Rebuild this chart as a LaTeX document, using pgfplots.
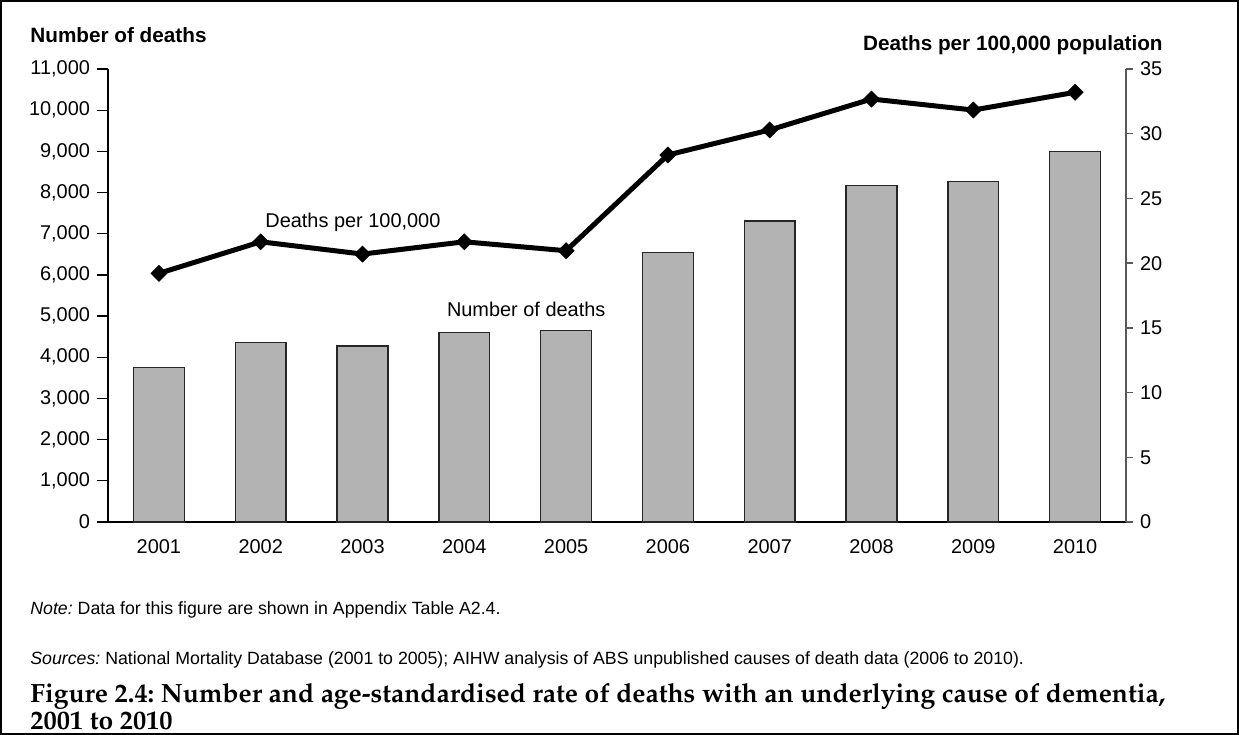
\documentclass[border=0pt]{standalone}
\usepackage[T1]{fontenc}
\usepackage{fontspec}
\setmainfont{Liberation Sans}
\usepackage{pgfplots}
\pgfplotsset{compat=1.18}

\definecolor{barfill}{HTML}{B3B3B3}
\newcommand\capfont{\fontencoding{T1}\fontfamily{ppl}\fontseries{b}\selectfont}

\begin{document}
\frenchspacing
\begin{tikzpicture}

% frame round the figure
\draw[line width=1.2bp] (0.6bp,-0.6bp) rectangle (618.9bp,-366.9bp);

% number of deaths (left axis, bars)
\begin{axis}[
  at={(54bp,-261bp)}, anchor=south west,
  scale only axis,
  width=509bp, height=226.5bp,
  xmin=0.5, xmax=10.5,
  ymin=0, ymax=11000,
  axis x line*=bottom,
  axis y line*=left,
  xtick={1,...,10},
  xticklabels={2001,2002,2003,2004,2005,2006,2007,2008,2009,2010},
  x tick style={draw=none},
  ytick={0,1000,...,11000},
  scaled y ticks=false,
  yticklabel style={/pgf/number format/1000 sep={,}},
  tick align=outside,
  major tick length=5.5bp,
  y tick style={black, line width=0.6bp},
  axis line style={black, line width=0.7bp},
  tick label style={font=\fontsize{10}{12}\selectfont},
  /pgf/number format/assume math mode=true,
]
\addplot[ybar, bar width=0.5, fill=barfill, draw=black!85, line width=0.7bp]
coordinates {
  (1,3747) (2,4354) (3,4274) (4,4597) (5,4645)
  (6,6539) (7,7309) (8,8166) (9,8263) (10,8992)
};
\end{axis}

% deaths per 100,000 (right axis, line)
\begin{axis}[
  at={(54bp,-261bp)}, anchor=south west,
  scale only axis,
  width=509bp, height=226.5bp,
  xmin=0.5, xmax=10.5,
  ymin=0, ymax=35,
  axis x line=none,
  axis y line*=right,
  ytick={0,5,...,35},
  tick align=outside,
  major tick length=3.5bp,
  y tick style={black!65, line width=0.7bp},
  axis line style={black!65, line width=0.9bp},
  tick label style={font=\fontsize{10}{12}\selectfont},
  /pgf/number format/assume math mode=true,
]
\addplot[black, line width=2.5bp, mark=square*, mark size=2.8bp,
  mark options={rotate=45, line width=0.4bp}]
coordinates {
  (1,19.21) (2,21.65) (3,20.70) (4,21.65) (5,20.96)
  (6,28.36) (7,30.29) (8,32.68) (9,31.83) (10,33.20)
};
\end{axis}

\node[anchor=base west, inner sep=0, font=\bfseries\fontsize{10.4}{12}\selectfont] at (15bp,-21.4bp) {Number of deaths};
\node[anchor=base east, inner sep=0, font=\bfseries\fontsize{10.4}{12}\selectfont] at (581.5bp,-25bp) {Deaths per 100,000 population};

\node[anchor=base west, inner sep=0, font=\fontsize{10}{12}\selectfont] at (132.5bp,-113.5bp) {Deaths per 100,000};
\node[anchor=base west, inner sep=0, font=\fontsize{10}{12}\selectfont] at (223.3bp,-158.3bp) {Number of deaths};

\node[anchor=base west, inner sep=0, font=\fontsize{8.9}{10}\selectfont] at (15bp,-307bp) {\textit{Note:} Data for this figure are shown in Appendix Table A2.4.};
\node[anchor=base west, inner sep=0, font=\fontsize{8.9}{10}\selectfont] at (15bp,-332bp) {\textit{Sources:} National Mortality Database (2001 to 2005); AIHW analysis of ABS unpublished causes of death data (2006 to 2010).};

\node[anchor=base west, inner sep=0, font=\capfont\fontsize{13.25}{14}\selectfont] at (15bp,-351bp) {Figure 2.4: Number and age-standardised rate of deaths with an underlying cause of dementia,};
\node[anchor=base west, inner sep=0, font=\capfont\fontsize{13.25}{14}\selectfont] at (15bp,-364.5bp) {2001 to 2010};

\end{tikzpicture}
\end{document}
